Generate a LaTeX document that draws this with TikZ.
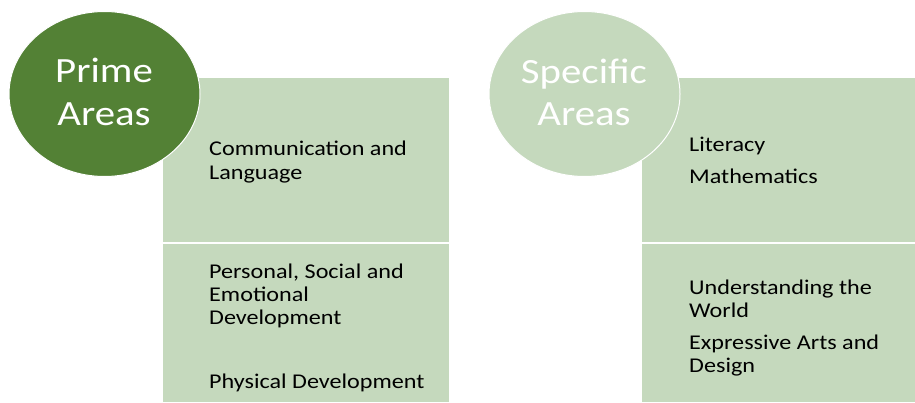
\documentclass[tikz,border=0pt]{standalone}
\usepackage{fontspec}
\setmainfont{Carlito}[FakeStretch=1.15]
\definecolor{darkgreen}{HTML}{538135}
\definecolor{lightgreen}{HTML}{C5D9BD}
\begin{document}
\begin{tikzpicture}[x=1pt,y=-1pt,
  panel/.style={fill=lightgreen,draw=none},
  bubble/.style={draw=white,line width=1pt},
  item/.style={anchor=base west,inner sep=0pt,font=\fontsize{21}{24}\selectfont,text=black},
  head/.style={anchor=base,inner sep=0pt,font=\fontsize{35.5}{40}\selectfont,text=white}]
\useasboundingbox (0,0) rectangle (915,402);
% left panels
\fill[panel] (163,78) rectangle (449,242.3);
\fill[panel] (163,244) rectangle (449,402);
% right panels
\fill[panel] (642,78) rectangle (915,242.3);
\fill[panel] (642,244) rectangle (915,402);
% circles
\draw[bubble,fill=darkgreen] (104.5,94) ellipse [x radius=95.5,y radius=82.5];
\draw[bubble,fill=lightgreen] (584.5,94) ellipse [x radius=95.5,y radius=82.5];
\node[head] (p1) at (104,82) {Prime};
\node[head] (p2) at (104,125) {Areas};
\node[head] (s1) at (584,83) {Specific};
\node[head] (s2) at (584,125) {Areas};
% left items
\node[item] (l1) at (209,155) {Communication and};
\node[item] (l2) at (209,179) {Language};
\node[item] (l3) at (209,278) {Personal, Social and};
\node[item] (l4) at (209,301) {Emotional};
\node[item] (l5) at (209,324) {Development};
\node[item] (l6) at (209,388) {Physical Development};
% right items
\node[item] (r1) at (689,151) {Literacy};
\node[item] (r2) at (689,183) {Mathematics};
\node[item] (r3) at (689,294) {Understanding the};
\node[item] (r4) at (689,317) {World};
\node[item] (r5) at (689,349) {Expressive Arts and};
\node[item] (r6) at (689,372) {Design};
\end{tikzpicture}
\end{document}
